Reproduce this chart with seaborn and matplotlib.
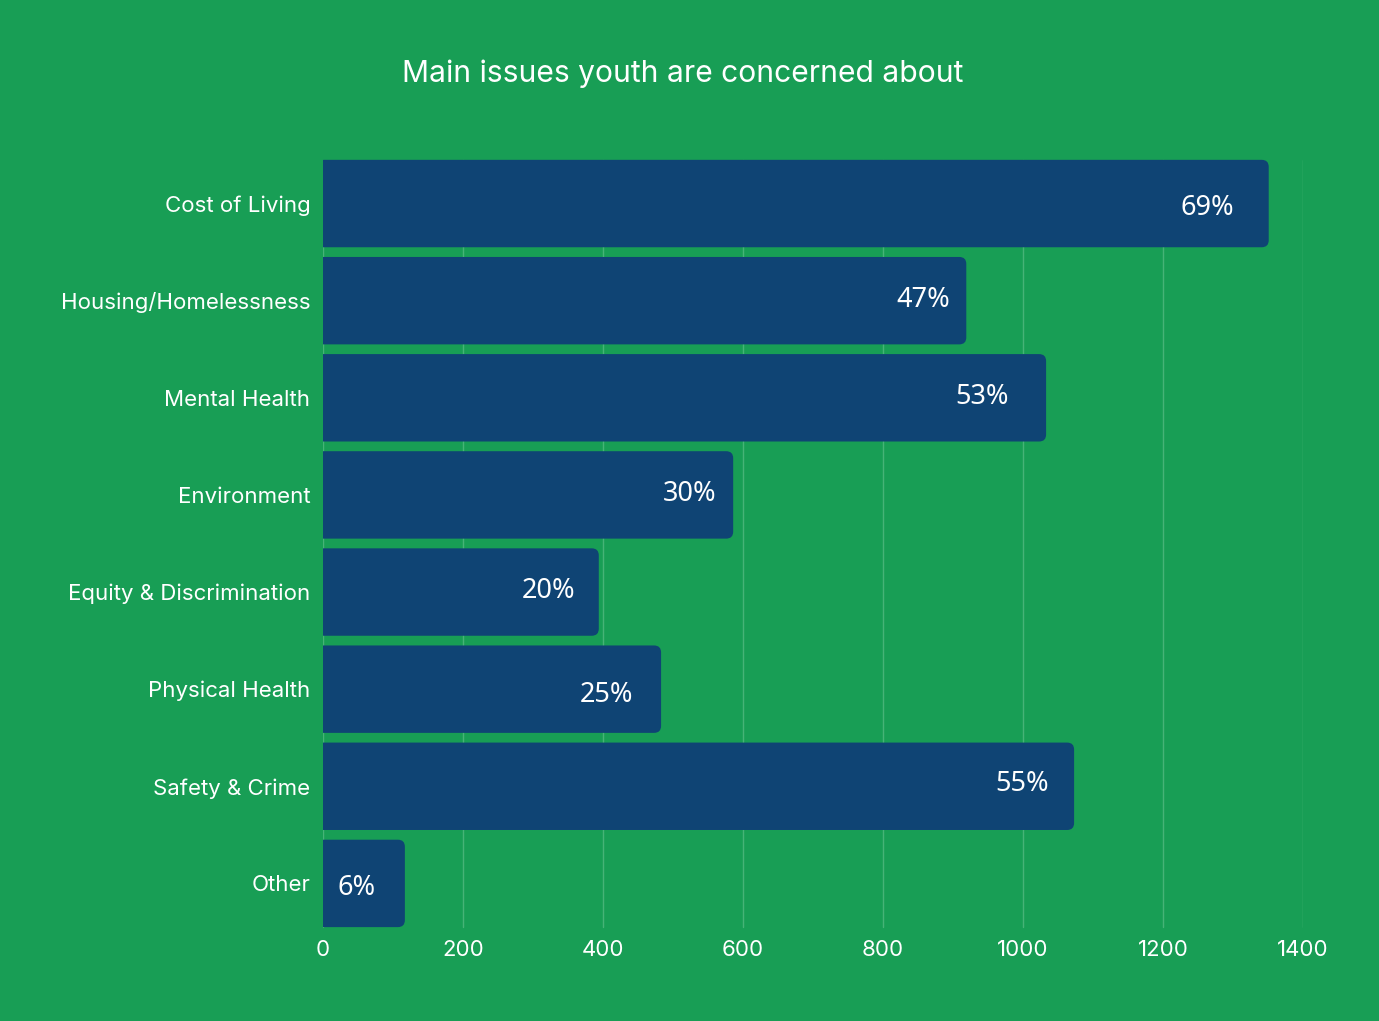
import numpy as np
import pandas as pd
import matplotlib
matplotlib.use("Agg")
import matplotlib.pyplot as plt
from matplotlib.patches import PathPatch
from matplotlib.path import Path
import seaborn as sns

issues = ["Cost of Living", "Housing/Homelessness", "Mental Health", "Environment",
          "Equity & Discrimination", "Physical Health", "Safety & Crime", "Other"]
counts = [1351, 919, 1033, 586, 394, 483, 1073, 117]
pct_labels = ["69%", "47%", "53%", "30%", "20%", "25%", "55%", "6%"]
# label nudges (points) as placed in the original
lab_dx = [-25, -12, -27, -12, -17, -20, -18, -21]
lab_dy = [-3, 0.5, 0.5, 0.5, 1, -4.5, 1.5, -3.5]

bg = "#189e55"
bar_col = "#0f4474"
grid_col = "#46b377"

sns.set_theme(style="white")
plt.rcParams["font.family"] = ["Inter", "DejaVu Sans"]

df = pd.DataFrame({"issue": issues, "count": counts})

fig = plt.figure(figsize=(13.79, 10.21), dpi=100, facecolor=bg)
ax = fig.add_axes([0.2342, 0.0872, 0.7107, 0.7610])
ax.set_facecolor(bg)

sns.barplot(data=df, x="count", y="issue", color=bar_col, width=0.9,
            saturation=1, ax=ax, zorder=3)

ax.set_xlim(0, 1400)
ax.set_ylim(len(issues) - 0.5, -0.5)

# redraw bars with rounded right ends (square left side)
rx = 7 * 1400 / 980
ry = 7 / 97
for p in list(ax.patches):
    x, y, w, h = p.get_x(), p.get_y(), p.get_width(), p.get_height()
    p.set_visible(False)
    verts = [(x, y), (x + w - rx, y), (x + w, y), (x + w, y + ry),
             (x + w, y + h - ry), (x + w, y + h), (x + w - rx, y + h),
             (x, y + h), (x, y)]
    codes = [Path.MOVETO, Path.LINETO, Path.CURVE3, Path.CURVE3,
             Path.LINETO, Path.CURVE3, Path.CURVE3, Path.LINETO, Path.CLOSEPOLY]
    ax.add_patch(PathPatch(Path(verts, codes), facecolor=bar_col,
                           edgecolor="none", zorder=3))

for i, (v, lab) in enumerate(zip(counts, pct_labels)):
    ax.annotate(lab, xy=(v, i), xytext=(lab_dx[i], lab_dy[i]),
                textcoords="offset points", ha="right", va="center",
                color="white", fontsize=19.5,
                family=["Noto Sans", "DejaVu Sans"], zorder=4)

ax.set_xticks(np.arange(0, 1401, 200))
for xv in np.arange(0, 1401, 200):
    ax.plot([xv, xv], [len(issues) - 0.55, -0.45], color=grid_col, lw=1, zorder=1)

for s in ax.spines.values():
    s.set_visible(False)
ax.tick_params(axis="both", length=0, colors="white")
ax.tick_params(axis="y", pad=9, labelsize=16)
ax.tick_params(axis="x", pad=6, labelsize=16)
ax.set_xlabel("")
ax.set_ylabel("")

fig.text(0.495, 0.928, "Main issues youth are concerned about", ha="center",
         va="center", color="white", fontsize=21.6)

fig.savefig("out.png", dpi=100, facecolor=bg)
